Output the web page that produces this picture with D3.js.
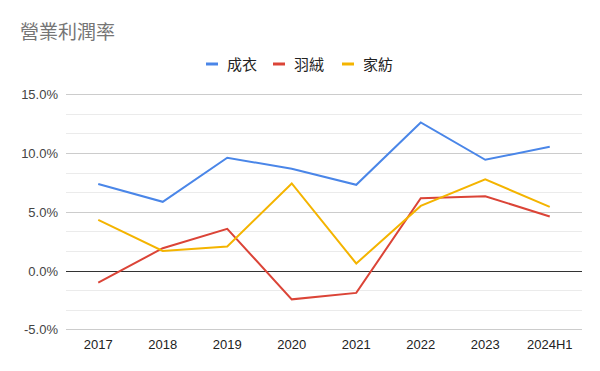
<!DOCTYPE html>
<head>
    <meta charset="utf-8">
    <script type="text/javascript" src="https://d3js.org/d3.v7.min.js"></script>
    <style>
        body { margin: 0; background: #fff; }
        .chart text { font-family: "Liberation Sans", Arial, "Noto Sans CJK TC", sans-serif; }
        .chart text.cjk { font-family: "Noto Sans CJK TC", sans-serif; }
    </style>
</head>

<svg class="chart"></svg>

<script>
    var years = ["2017", "2018", "2019", "2020", "2021", "2022", "2023", "2024H1"];
    var seriesNames = ["成衣", "羽絨", "家紡"];
    var apparel = [7.36, 5.85, 9.6, 8.66, 7.3, 12.6, 9.43, 10.54];
    var downWear = [-1.02, 1.9, 3.55, -2.45, -1.9, 6.16, 6.33, 4.6];
    var homeTextile = [4.31, 1.67, 2.05, 7.41, 0.6, 5.5, 7.76, 5.42];
    var yTicks = [-5, 0, 5, 10, 15];

    var colors = ["#4a86e8", "#db4437", "#f4b400"];
    var allSeries = [apparel, downWear, homeTextile];

    var width = 600, height = 371;
    var plotLeft = 66, plotRight = 582, plotTop = 94.3, plotBottom = 329.3;

    var svg = d3.select(".chart")
        .attr("width", width)
        .attr("height", height);

    var x = d3.scalePoint()
        .domain(years)
        .range([plotLeft, plotRight])
        .padding(0.5);

    var y = d3.scaleLinear()
        .domain([-5, 15])
        .range([plotBottom, plotTop]);

    // minor gridlines
    var minor = d3.range(-5, 15.01, 5 / 3);
    svg.append("g").selectAll("line")
        .data(minor)
        .enter().append("line")
        .attr("x1", plotLeft).attr("x2", plotRight)
        .attr("y1", function(d) { return Math.round(y(d)) + 0.5; })
        .attr("y2", function(d) { return Math.round(y(d)) + 0.5; })
        .attr("stroke", "#ebebeb");

    // major gridlines
    svg.append("g").selectAll("line")
        .data(yTicks)
        .enter().append("line")
        .attr("x1", plotLeft).attr("x2", plotRight)
        .attr("y1", function(d) { return Math.round(y(d)) + 0.5; })
        .attr("y2", function(d) { return Math.round(y(d)) + 0.5; })
        .attr("stroke", function(d) { return d === 0 ? "#333" : "#cccccc"; });

    svg.append("g").selectAll("text")
        .data(yTicks)
        .enter().append("text")
        .attr("x", 58)
        .attr("y", function(d) { return y(d) + 5; })
        .attr("text-anchor", "end")
        .attr("font-size", 13)
        .attr("fill", "#444")
        .text(function(d) { return d.toFixed(1) + "%"; });

    svg.append("g").selectAll("text")
        .data(years)
        .enter().append("text")
        .attr("x", function(d) { return x(d); })
        .attr("y", 349)
        .attr("text-anchor", "middle")
        .attr("font-size", 13)
        .attr("fill", "#222")
        .text(function(d) { return d; });

    var line = d3.line()
        .x(function(d, i) { return x(years[i]); })
        .y(function(d) { return y(d); });

    allSeries.forEach(function(s, i) {
        svg.append("path")
            .datum(s)
            .attr("d", line)
            .attr("fill", "none")
            .attr("stroke", colors[i])
            .attr("stroke-width", 2);
    });

    // title
    svg.append("text")
        .attr("class", "cjk")
        .attr("x", 20)
        .attr("y", 39)
        .attr("font-size", 19)
        .attr("fill", "#757575")
        .text("營業利潤率");

    // legend
    var legendX = [206, 273, 342];
    var legend = svg.append("g").selectAll("g")
        .data(seriesNames)
        .enter().append("g")
        .attr("transform", function(d, i) { return "translate(" + legendX[i] + ",64)"; });

    legend.append("line")
        .attr("x1", 0).attr("x2", 12)
        .attr("stroke", function(d, i) { return colors[i]; })
        .attr("stroke-width", 3);

    legend.append("text")
        .attr("class", "cjk")
        .attr("x", 21)
        .attr("y", 5.5)
        .attr("font-size", 15)
        .attr("fill", "#222")
        .text(function(d) { return d; });
</script>
